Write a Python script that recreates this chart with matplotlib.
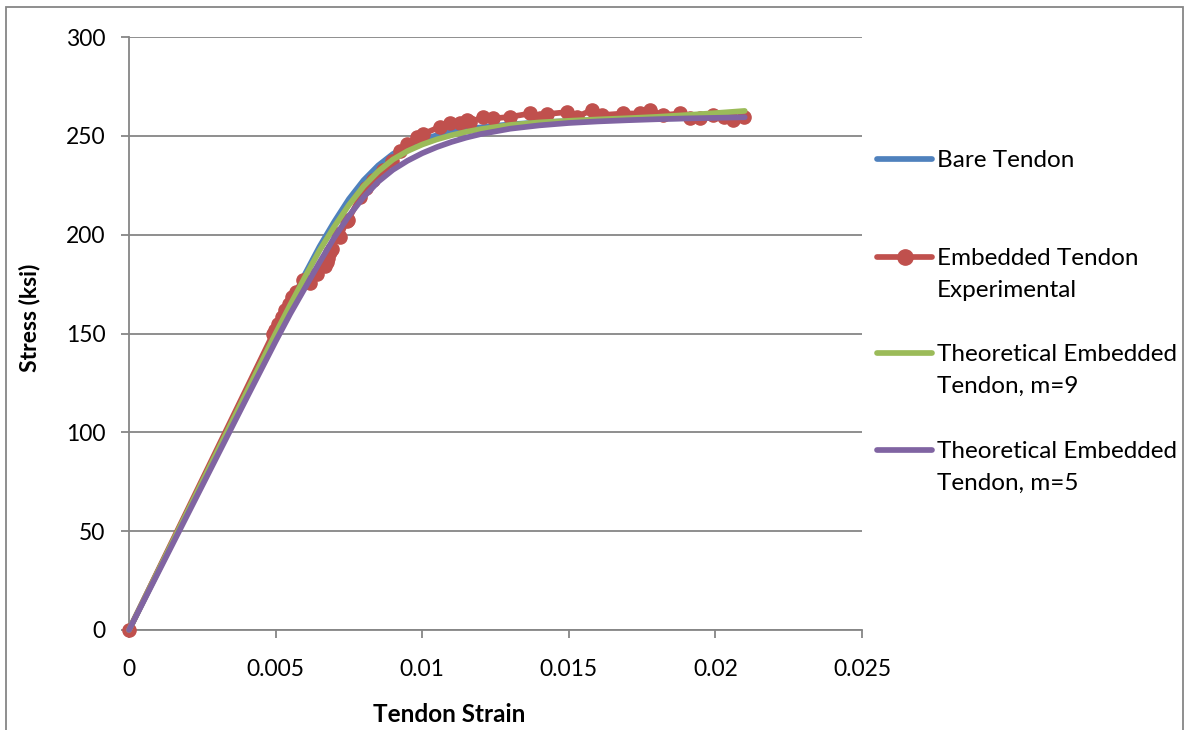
import matplotlib
matplotlib.use("Agg")
import matplotlib.pyplot as plt
from matplotlib.lines import Line2D
from matplotlib.patches import Rectangle

plt.rcParams['font.family'] = ['Lato', 'DejaVu Sans']

# ---------------- data ----------------
bare_x = [0, 0.002, 0.004, 0.005, 0.0055, 0.006, 0.0065, 0.007, 0.0075, 0.008, 0.0085,
          0.009, 0.0095, 0.010, 0.0105, 0.011, 0.0115, 0.012, 0.013, 0.014, 0.015,
          0.016, 0.018, 0.021]
bare_y = [0, 60, 120, 150, 165, 180, 194, 206.5, 218, 227.5, 235,
          240.8, 245, 248, 250.3, 252, 253.3, 254.3, 255.8, 256.8, 257.5,
          258, 258.7, 259.4]

m9_x = [0, 0.002, 0.004, 0.005, 0.0055, 0.006, 0.0065, 0.007, 0.0075, 0.008, 0.0085,
        0.009, 0.0095, 0.010, 0.0105, 0.011, 0.0115, 0.012, 0.013, 0.014, 0.015,
        0.016, 0.017, 0.018, 0.019, 0.020, 0.021]
m9_y = [0, 60, 120, 150, 164.5, 178.5, 192, 204, 215, 224.5, 232,
        238, 242.3, 245.6, 248.2, 250.3, 252, 253.4, 255.5, 256.8, 257.6,
        258.3, 258.9, 259.6, 260.5, 261.5, 262.6]

m5_x = [0, 0.002, 0.004, 0.0045, 0.005, 0.0055, 0.006, 0.0065, 0.007, 0.0075, 0.008,
        0.0085, 0.009, 0.0095, 0.010, 0.0105, 0.011, 0.0115, 0.012, 0.013, 0.014,
        0.015, 0.016, 0.017, 0.018, 0.019, 0.020, 0.021]
m5_y = [0, 58.5, 117, 131.5, 146, 160, 173, 186, 198.5, 209.5, 219,
        226.8, 232.8, 237.4, 241.2, 244.3, 246.9, 249.1, 250.9, 253.6, 255.3,
        256.5, 257.3, 257.9, 258.4, 258.8, 259.1, 259.4]

exp_x = [0, 0.00492, 0.00498, 0.00509, 0.00522, 0.00532, 0.00545, 0.00555, 0.00568,
         0.00594, 0.00605, 0.00617, 0.00640, 0.00668, 0.00676, 0.00680, 0.00686, 0.00691,
         0.00714, 0.00720, 0.00742, 0.00748, 0.00788, 0.00810, 0.00833, 0.00868, 0.00896,
         0.00924, 0.00947, 0.00981, 0.01004, 0.01060, 0.01095, 0.01129, 0.01152, 0.01163,
         0.01209, 0.01243, 0.01300, 0.01368, 0.01402, 0.01425, 0.01493, 0.01527, 0.01578,
         0.01612, 0.01686, 0.01743, 0.01777, 0.01822, 0.01879, 0.01913, 0.01947, 0.01993,
         0.02030, 0.02061, 0.02096]
exp_y = [0, 150, 152, 155, 158.5, 162, 165, 168.5, 171,
         177, 176.5, 175.5, 180, 184, 186, 188, 191, 192.5,
         200.5, 199, 207, 207.5, 219, 223.5, 227.5, 232.5, 237.5,
         242.5, 246, 249.5, 251, 254.5, 256.3, 256.3, 258, 257,
         259.5, 258.8, 259.6, 261.3, 258.8, 261, 262, 259.6, 263,
         260.5, 261.3, 261.3, 263, 260.5, 261.3, 258.8, 258.8, 260.5,
         259.5, 258, 259.6]

x_ticks = [0, 0.005, 0.01, 0.015, 0.02, 0.025]
x_tick_labels = ['0', '0.005', '0.01', '0.015', '0.02', '0.025']
y_ticks = [0, 50, 100, 150, 200, 250, 300]

labels = [['Bare Tendon'], ['Embedded Tendon', 'Experimental'],
          ['Theoretical Embedded', 'Tendon, m=9'], ['Theoretical Embedded', 'Tendon, m=5']]

# ---------------- style ----------------
W, H = 1186, 730
C_BLUE, C_RED, C_GREEN, C_PURPLE = '#4F81BD', '#C0504D', '#9BBB59', '#8064A2'
GRAY = '#868686'
FS = 16.5
LFS = 17.5

def fx(px):
    return px / W

def fy(py):
    return 1 - py / H

fig = plt.figure(figsize=(W / 100, H / 100), dpi=100)
ax = fig.add_axes([fx(129), fy(630), fx(862) - fx(129), fy(37) - fy(630)])

lw = 4.1
common = dict(lw=lw, solid_capstyle='round', solid_joinstyle='round', clip_on=False)
ax.plot(bare_x, bare_y, color=C_BLUE, zorder=2, **common)
ax.plot(exp_x, exp_y, color=C_RED, marker='o', ms=9.5, mec=C_RED, mfc=C_RED,
        zorder=3, **common)
ax.plot(m9_x, m9_y, color=C_GREEN, zorder=4, **common)
ax.plot(m5_x, m5_y, color=C_PURPLE, zorder=5, **common)

ax.set_xlim(0, 0.025)
ax.set_ylim(0, 300)
ax.set_xticks(x_ticks)
ax.set_xticklabels(x_tick_labels)
ax.set_yticks(y_ticks)
ax.yaxis.grid(True, color=GRAY, lw=1.3)
ax.set_axisbelow(True)
for s in ['top', 'right']:
    ax.spines[s].set_visible(False)
for s in ['left', 'bottom']:
    ax.spines[s].set_color(GRAY)
    ax.spines[s].set_linewidth(1.3)
ax.tick_params(axis='both', direction='out', length=6, width=1.3, color=GRAY,
               labelsize=FS, labelcolor='black')
ax.tick_params(axis='y', pad=11)
ax.tick_params(axis='x', pad=15)

# axis titles
fig.text(fx(449), fy(715), 'Tendon Strain', ha='center', va='center',
         fontsize=17.5, fontweight='bold')
fig.text(fx(30), fy(318), 'Stress (ksi)', ha='center', va='center', rotation=90,
         fontsize=16.5, fontweight='bold')

# legend (manual)
colors = [C_BLUE, C_RED, C_GREEN, C_PURPLE]
ys = [159, 257, 353, 450]
for i, (lines, c, y) in enumerate(zip(labels, colors, ys)):
    fig.add_artist(Line2D([fx(877), fx(932)], [fy(y), fy(y)], color=c, lw=lw,
                          solid_capstyle='round'))
    if i == 1:
        fig.add_artist(Line2D([fx(904.5)], [fy(y)], color=c, marker='o', ms=11,
                              mec=c, mfc=c))
    for k, t in enumerate(lines):
        fig.text(fx(937), fy(y + 8 + 32 * k), t, ha='left', va='baseline',
                 fontsize=LFS)

# outer chart frame
fig.add_artist(Rectangle((fx(6), fy(740)), fx(1183) - fx(6), fy(7) - fy(740),
                         fill=False, edgecolor=GRAY, lw=1.3,
                         transform=fig.transFigure))

fig.savefig('out.png', dpi=100)
